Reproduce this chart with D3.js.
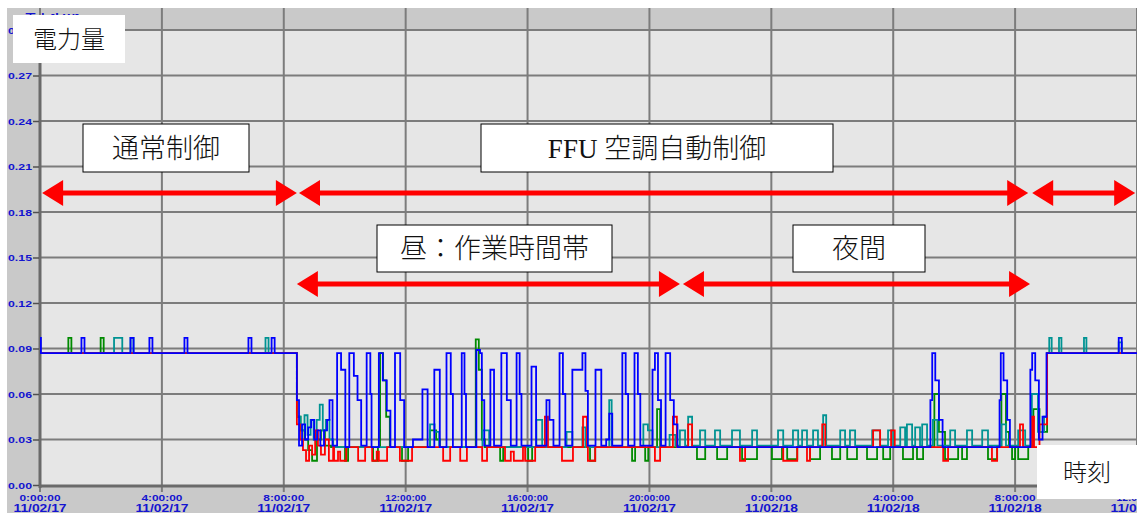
<!DOCTYPE html>
<html>
<head>
<meta charset="utf-8">
<script src="https://cdn.jsdelivr.net/npm/d3@7"></script>
<style>
  body { margin: 0; background: #fff; }
  svg { display: block; }
</style>
</head>
<body>
<div id="chart"></div>
<script>
// time in hours from 11/02/17 0:00, value in kW
const blueSeries = [
  [0,.097],[0.03,.087],
  [1.36,.097],[1.46,.087],[2.97,.097],[3.07,.087],[3.59,.097],[3.69,.087],[4.74,.097],[4.84,.087],[6.84,.097],[6.94,.087],[7.60,.097],[7.70,.087],
  [8.43,.056],[8.50,.026],[8.60,.040],[8.70,.030],[8.80,.038],[8.90,.043],[9.00,.030],[9.10,.036],[9.20,.026],[9.32,.036],[9.42,.043],[9.50,.056],[9.60,.026],
  [9.75,.087],[9.88,.076],[10.02,.025],[10.15,.087],[10.30,.072],[10.42,.056],[10.54,.026],
  [10.72,.087],[10.84,.060],[10.88,.025],[11.12,.087],[11.25,.069],[11.38,.049],[11.50,.025],
  [11.65,.087],[11.82,.056],[11.95,.025],[12.24,.030],[12.55,.063],[12.72,.025],[12.94,.076],[13.12,.025],[13.34,.087],[13.48,.060],[13.55,.025],[13.84,.087],[13.93,.060],[13.98,.025],
  [14.32,.089],[14.44,.087],[14.50,.056],[14.58,.026],[14.78,.076],[14.90,.026],[15.14,.087],[15.32,.056],[15.45,.026],
  [15.64,.087],[15.74,.060],[15.80,.026],[16.13,.078],[16.28,.026],[16.62,.056],[16.72,.043],[16.85,.026],[17.05,.087],[17.16,.060],[17.24,.026],
  [17.47,.076],[17.80,.087],[17.90,.062],[17.98,.026],[18.23,.076],[18.42,.026],[18.58,.030],[18.68,.047],[18.78,.026],
  [19.11,.087],[19.22,.060],[19.30,.026],[19.51,.087],[19.62,.060],[19.70,.026],[20.10,.076],[20.18,.087],[20.28,.056],[20.38,.026],[20.53,.087],[20.68,.056],[20.80,.040],[20.92,.025],
  [29.22,.056],[29.28,.087],[29.38,.069],[29.50,.043],[29.62,.025],
  [31.49,.056],[31.53,.087],[31.62,.069],[31.74,.043],[31.83,.025],
  [32.50,.076],[32.56,.087],[32.66,.069],[32.78,.030],[32.90,.045],[33.03,.087],
  [35.40,.097],[35.50,.087],[36,.087]
];

const tealSeries = [
  [0,.087],[2.43,.097],[2.70,.087],[2.97,.097],[3.07,.087],[7.40,.097],[7.50,.087],
  [8.43,.045],[8.55,.036],[8.68,.046],[8.78,.033],[8.88,.043],[8.98,.030],[9.08,.043],[9.18,.053],[9.28,.036],[9.38,.043],[9.50,.030],[9.62,.025],
  [12.80,.040],[12.95,.035],[13.10,.025],
  [14.52,.036],[14.74,.025],[16.29,.043],[16.48,.025],[17.28,.035],[17.47,.025],[17.80,.038],[17.90,.025],
  [18.68,.056],[18.76,.025],[19.80,.040],[19.95,.036],[20.10,.025],[20.66,.033],[20.85,.026],
  [21.00,.036],[21.17,.026],[21.27,.045],[21.40,.026],[21.66,.036],[21.83,.026],[22.15,.036],[22.32,.026],
  [22.71,.036],[22.97,.026],[23.37,.036],[23.53,.026],[24.22,.036],[24.39,.026],[24.71,.036],[24.88,.026],
  [25.01,.036],[25.17,.026],[25.37,.036],[25.53,.026],[25.70,.046],[25.80,.026],[26.26,.036],[26.42,.026],
  [26.58,.036],[26.75,.026],[27.31,.036],[27.57,.026],[27.83,.036],[28.00,.026],[28.23,.038],[28.39,.026],
  [28.45,.040],[28.62,.026],[28.72,.038],[28.88,.026],[28.95,.040],[29.11,.026],[29.30,.043],[29.45,.026],
  [29.87,.036],[30.03,.026],[30.42,.036],[30.59,.026],[30.92,.036],[31.11,.026],[31.55,.040],[31.70,.026],
  [32.10,.036],[32.33,.026],[32.55,.060],[32.75,.035],[32.95,.045],[33.05,.087],
  [33.12,.097],[33.20,.087],[33.44,.097],[33.52,.087],[34.26,.097],[34.34,.087],[35.40,.094],[35.50,.087],[36,.087]
];

const greenSeries = [
  [0,.087],[0.93,.097],[1.03,.087],[1.99,.097],[2.09,.087],
  [8.43,.045],[8.55,.036],[8.68,.030],[8.80,.023],[8.93,.016],[9.09,.030],[9.22,.036],[9.35,.026],[9.55,.025],
  [10.01,.016],[10.11,.025],[10.93,.016],[11.09,.025],[11.16,.087],[11.26,.069],[11.36,.045],[11.48,.025],
  [11.88,.016],[12.08,.025],[12.80,.036],[13.00,.030],[13.12,.025],
  [14.30,.096],[14.40,.076],[14.50,.030],[14.60,.025],[15.10,.016],[15.20,.025],[16.02,.016],[16.15,.025],
  [18.05,.016],[18.22,.025],[19.43,.016],[19.53,.025],[19.86,.016],[19.96,.025],[20.25,.050],[20.35,.025],
  [21.56,.017],[21.83,.025],[22.22,.017],[22.55,.025],[23.04,.017],[23.53,.025],[24.02,.017],[24.35,.025],
  [24.52,.017],[24.85,.025],[25.27,.017],[25.60,.025],[25.99,.017],[26.26,.025],[26.49,.017],[26.81,.025],
  [27.14,.017],[27.47,.025],[27.67,.017],[27.90,.025],[28.32,.017],[28.65,.025],[28.78,.017],[28.98,.025],
  [29.35,.060],[29.50,.035],[29.70,.017],[30.13,.025],[30.26,.017],[30.42,.025],[31.11,.017],[31.41,.025],
  [31.55,.060],[31.70,.035],[31.80,.025],[31.90,.017],[32.00,.025],[32.10,.017],[32.43,.025],
  [32.60,.050],[32.80,.035],[33.05,.087],[36,.087]
];

const redSeries = [
  [0,.087],
  [8.43,.040],[8.53,.030],[8.63,.023],[8.73,.016],[8.83,.026],[8.93,.020],[9.03,.036],[9.12,.026],[9.22,.020],[9.35,.030],[9.48,.016],[9.62,.025],
  [9.65,.016],[9.78,.022],[9.85,.016],[10.05,.025],[10.44,.016],[10.67,.025],
  [10.90,.016],[11.05,.022],[11.12,.016],[11.39,.025],[11.81,.016],[12.21,.025],
  [13.23,.016],[13.46,.025],[13.79,.016],[14.01,.025],[14.51,.016],[14.67,.025],
  [15.26,.016],[15.45,.022],[15.55,.016],[15.85,.025],[15.92,.016],[16.25,.025],[16.57,.045],[16.67,.025],
  [17.13,.016],[17.49,.025],[17.82,.045],[17.95,.025],[17.98,.016],[18.22,.025],
  [20.18,.016],[20.35,.025],[20.77,.045],[20.90,.025],
  [21.27,.040],[21.40,.025],[22.97,.016],[23.14,.025],[24.39,.016],[24.85,.025],[25.17,.016],[25.27,.025],
  [25.67,.040],[25.77,.025],[27.34,.036],[27.57,.025],[27.93,.036],[28.05,.025],
  [29.64,.016],[29.80,.025],[31.24,.016],[31.41,.025],[32.16,.040],[32.26,.025],[32.56,.045],[32.62,.025],
  [32.80,.040],[33.05,.087],[36,.087]
];

const xTickHours = [0, 4, 8, 12, 16, 20, 24, 28, 32, 36];
const xTickTimes = ["0:00:00","4:00:00","8:00:00","12:00:00","16:00:00","20:00:00","0:00:00","4:00:00","8:00:00","12:00:00"];
const xTickDates = ["11/02/17","11/02/17","11/02/17","11/02/17","11/02/17","11/02/17","11/02/18","11/02/18","11/02/18","11/02/18"];
const yTicks = [0, 0.03, 0.06, 0.09, 0.12, 0.15, 0.18, 0.21, 0.24, 0.27, 0.30];

// [start hour, end hour, level kW]
const arrowRow1 = [[0.07, 8.43, 0.1925], [8.50, 32.43, 0.1925], [32.56, 35.94, 0.1925]];
const arrowRow2 = [[8.43, 21.0, 0.1325], [21.10, 32.49, 0.1325]];

const width = 1137;
const height = 513;

const svg = d3.select("#chart")
    .append("svg")
    .attr("width", width)
    .attr("height", height);

const x = d3.scaleLinear().domain([0, 36]).range([40, 1137]);
const y = d3.scaleLinear().domain([0, 0.30]).range([485, 30]);

// frame + plot background
svg.append("rect").attr("x", 7).attr("y", 8).attr("width", width - 7).attr("height", height - 8).attr("fill", "#c9c9c9");
svg.append("rect").attr("x", 40).attr("y", 30).attr("width", width - 40).attr("height", 455).attr("fill", "#e6e6e6");

// title (mostly hidden by the label box)
svg.append("text").attr("x", 24).attr("y", 24)
    .attr("font-family", "Noto Sans CJK JP").attr("font-weight", "bold").attr("font-size", 13)
    .attr("fill", "#1010d0").text("電力[kW]");

// grid
svg.append("g").selectAll("line")
    .data(xTickHours)
    .join("line")
        .attr("x1", d => x(d)).attr("x2", d => x(d))
        .attr("y1", 8).attr("y2", 492)
        .attr("stroke", "#7c7c7c").attr("stroke-width", 2);

svg.append("g").selectAll("line")
    .data(yTicks.slice(1))
    .join("line")
        .attr("x1", 40).attr("x2", width)
        .attr("y1", d => y(d)).attr("y2", d => y(d))
        .attr("stroke", "#7c7c7c").attr("stroke-width", 2);

// axes lines
svg.append("line").attr("x1", 40).attr("x2", 40).attr("y1", 30).attr("y2", 488)
    .attr("stroke", "#6a6a6a").attr("stroke-width", 3);
svg.append("line").attr("x1", 40).attr("x2", width).attr("y1", 486).attr("y2", 486)
    .attr("stroke", "#6a6a6a").attr("stroke-width", 3);

// y axis labels
const yAxis = svg.append("g")
    .attr("transform", "translate(39,0)")
    .call(d3.axisLeft(y).tickValues(yTicks).tickFormat(d3.format(".2f")).tickSize(6).tickPadding(1));
yAxis.select(".domain").remove();
yAxis.selectAll(".tick line").attr("stroke", "#505050").attr("stroke-width", 1.5);
yAxis.selectAll(".tick text")
    .attr("fill", "#1414d0")
    .attr("font-family", "Liberation Sans")
    .attr("font-weight", "bold")
    .attr("font-size", 9.5)
    .attr("textLength", 24)
    .attr("lengthAdjust", "spacingAndGlyphs");

// x axis labels
const xLab = svg.append("g").selectAll("g")
    .data(xTickHours)
    .join("g")
        .attr("transform", d => `translate(${x(d)},0)`);
xLab.append("text")
    .attr("y", 501).attr("text-anchor", "middle")
    .attr("fill", "#1414d0").attr("font-family", "Liberation Sans").attr("font-weight", "bold")
    .attr("font-size", 9.5).attr("textLength", 41).attr("lengthAdjust", "spacingAndGlyphs")
    .text((d, i) => xTickTimes[i]);
xLab.append("text")
    .attr("y", 512).attr("text-anchor", "middle")
    .attr("fill", "#1414d0").attr("font-family", "Liberation Sans").attr("font-weight", "bold")
    .attr("font-size", 10.5).attr("textLength", 53).attr("lengthAdjust", "spacingAndGlyphs")
    .text((d, i) => xTickDates[i]);

// series
svg.append("clipPath").attr("id", "plot-clip")
    .append("rect").attr("x", 40).attr("y", 30).attr("width", width - 40).attr("height", 456);

const line = d3.line()
    .x(d => x(d[0]))
    .y(d => y(d[1]))
    .curve(d3.curveStepAfter);

const series = [
    {data: greenSeries, color: "#008a00"},
    {data: tealSeries, color: "#009393"},
    {data: redSeries, color: "#ff0000"},
    {data: blueSeries, color: "#0000ff"}
];

svg.append("g")
    .attr("clip-path", "url(#plot-clip)")
    .selectAll("path")
    .data(series)
    .join("path")
        .attr("d", d => line(d.data))
        .attr("fill", "none")
        .attr("stroke", d => d.color)
        .attr("stroke-width", 1.8);

// annotations
const drawArrow = function(g, a) {
    const x1 = x(a[0]), x2 = x(a[1]), yy = y(a[2]);
    const hl = 21, hw = 13;
    g.append("line")
        .attr("x1", x1 + hl - 2).attr("x2", x2 - hl + 2)
        .attr("y1", yy).attr("y2", yy)
        .attr("stroke", "#ff0000").attr("stroke-width", 5);
    g.append("path")
        .attr("d", `M${x1},${yy}L${x1 + hl},${yy - hw}L${x1 + hl},${yy + hw}Z`)
        .attr("fill", "#ff0000");
    g.append("path")
        .attr("d", `M${x2},${yy}L${x2 - hl},${yy - hw}L${x2 - hl},${yy + hw}Z`)
        .attr("fill", "#ff0000");
}

const ann = svg.append("g");
arrowRow1.concat(arrowRow2).forEach(a => drawArrow(ann, a));

const boxes = [
    {x: 83, y: 124, w: 166, h: 48, text: "通常制御", border: true, size: 27},
    {x: 481, y: 124, w: 352, h: 48, text: "FFU 空調自動制御", border: true, size: 27},
    {x: 377, y: 225, w: 235, h: 47, text: "昼：作業時間帯", border: true, size: 27},
    {x: 793, y: 225, w: 132, h: 47, text: "夜間", border: true, size: 27},
    {x: 13, y: 15, w: 112, h: 48, text: "電力量", border: false, size: 24},
    {x: 1037, y: 445, w: 100, h: 54, text: "時刻", border: false, size: 24}
];

const bx = ann.selectAll("g.box")
    .data(boxes)
    .join("g")
        .attr("class", "box");
bx.append("rect")
    .attr("x", d => d.x).attr("y", d => d.y)
    .attr("width", d => d.w).attr("height", d => d.h)
    .attr("fill", "#fff")
    .attr("stroke", d => d.border ? "#000" : "none")
    .attr("stroke-width", 1);
bx.append("text")
    .attr("x", d => d.x + d.w / 2)
    .attr("y", d => d.y + d.h / 2)
    .attr("dy", "0.36em")
    .attr("text-anchor", "middle")
    .attr("font-family", "'Liberation Serif', 'Noto Sans CJK JP'")
    .attr("font-weight", 300)
    .attr("font-size", d => d.size)
    .attr("fill", "#111")
    .text(d => d.text);
</script>
</body>
</html>
